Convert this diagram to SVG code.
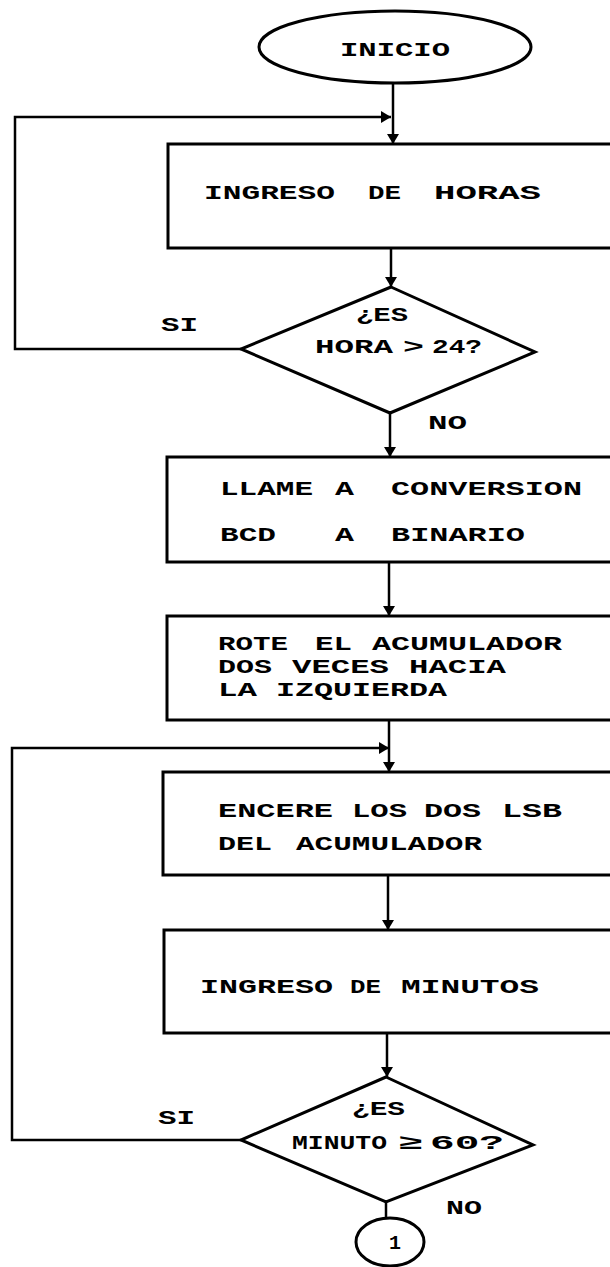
<svg xmlns="http://www.w3.org/2000/svg" width="610" height="1267" viewBox="0 0 610 1267">
<style>
.t{font-family:"Liberation Mono","Courier New",monospace;font-weight:bold;font-size:20px;fill:#000}
.s{fill:#fff;stroke:#000;stroke-width:3}
.c{fill:none;stroke:#000;stroke-width:2.5}
</style>
<defs>
<marker id="ah" markerUnits="userSpaceOnUse" markerWidth="12" markerHeight="12" refX="10" refY="6" orient="auto">
<path d="M0,0 L10,6 L0,12 Z" fill="#000"/>
</marker>
</defs>
<rect width="610" height="1267" fill="#fff"/>
<g id="connectors">
<path class="c" d="M393,83 V144" marker-end="url(#ah)"/>
<path class="c" d="M241,349 H15 V117 H391" marker-end="url(#ah)"/>
<path class="c" d="M391,248 V287" marker-end="url(#ah)"/>
<path class="c" d="M390,413 V457" marker-end="url(#ah)"/>
<path class="c" d="M389,562 V616" marker-end="url(#ah)"/>
<path class="c" d="M389,720 V772" marker-end="url(#ah)"/>
<path class="c" d="M241,1140 H12 V748 H389" marker-end="url(#ah)"/>
<path class="c" d="M388,875 V930" marker-end="url(#ah)"/>
<path class="c" d="M387,1033 V1077" marker-end="url(#ah)"/>
<path class="c" d="M386,1202 V1218"/>
</g>
<g id="inicio">
<ellipse class="s" cx="395" cy="47" rx="136" ry="36"/>
<text class="t" x="340" y="56" textLength="110" lengthAdjust="spacingAndGlyphs">INICIO</text>
</g>
<g id="ingreso-horas">
<rect class="s" x="168" y="144" width="460" height="104"/>
<text class="t" x="204" y="199" textLength="131" lengthAdjust="spacingAndGlyphs">INGRESO</text>
<text class="t" x="368" y="199" textLength="33" lengthAdjust="spacingAndGlyphs">DE</text>
<text class="t" x="434" y="199" textLength="107" lengthAdjust="spacingAndGlyphs">HORAS</text>
</g>
<g id="es-hora">
<polygon class="s" points="391,287 535,352 390,413 241,349"/>
<text class="t" x="356" y="321" textLength="52" lengthAdjust="spacingAndGlyphs">¿ES</text>
<text class="t" x="315" y="353" textLength="78" lengthAdjust="spacingAndGlyphs">HORA</text>
<text class="t" x="403" y="353" textLength="21" lengthAdjust="spacingAndGlyphs">&gt;</text>
<text class="t" x="432" y="353" textLength="50" lengthAdjust="spacingAndGlyphs">24?</text>
<text class="t" x="161" y="331" textLength="37" lengthAdjust="spacingAndGlyphs">SI</text>
<text class="t" x="428" y="429" textLength="39" lengthAdjust="spacingAndGlyphs">NO</text>
</g>
<g id="llame">
<rect class="s" x="167" y="457" width="460" height="105"/>
<text class="t" x="220" y="495" textLength="93" lengthAdjust="spacingAndGlyphs">LLAME</text>
<text class="t" x="335" y="495" textLength="19" lengthAdjust="spacingAndGlyphs">A</text>
<text class="t" x="391" y="495" textLength="191" lengthAdjust="spacingAndGlyphs">CONVERSION</text>
<text class="t" x="220" y="541" textLength="56" lengthAdjust="spacingAndGlyphs">BCD</text>
<text class="t" x="335" y="541" textLength="19" lengthAdjust="spacingAndGlyphs">A</text>
<text class="t" x="391" y="541" textLength="134" lengthAdjust="spacingAndGlyphs">BINARIO</text>
</g>
<g id="rote">
<rect class="s" x="167" y="616" width="460" height="104"/>
<text class="t" x="218" y="650" textLength="70" lengthAdjust="spacingAndGlyphs">ROTE</text>
<text class="t" x="315" y="650" textLength="37" lengthAdjust="spacingAndGlyphs">EL</text>
<text class="t" x="372" y="650" textLength="190" lengthAdjust="spacingAndGlyphs">ACUMULADOR</text>
<text class="t" x="218" y="673" textLength="54" lengthAdjust="spacingAndGlyphs">DOS</text>
<text class="t" x="292" y="673" textLength="97" lengthAdjust="spacingAndGlyphs">VECES</text>
<text class="t" x="409" y="673" textLength="97" lengthAdjust="spacingAndGlyphs">HACIA</text>
<text class="t" x="218" y="696" textLength="39" lengthAdjust="spacingAndGlyphs">LA</text>
<text class="t" x="276" y="696" textLength="171" lengthAdjust="spacingAndGlyphs">IZQUIERDA</text>
</g>
<g id="encere">
<rect class="s" x="163" y="772" width="465" height="103"/>
<text class="t" x="218" y="817" textLength="115" lengthAdjust="spacingAndGlyphs">ENCERE</text>
<text class="t" x="352" y="817" textLength="55" lengthAdjust="spacingAndGlyphs">LOS</text>
<text class="t" x="424" y="817" textLength="57" lengthAdjust="spacingAndGlyphs">DOS</text>
<text class="t" x="502" y="817" textLength="60" lengthAdjust="spacingAndGlyphs">LSB</text>
<text class="t" x="218" y="850" textLength="54" lengthAdjust="spacingAndGlyphs">DEL</text>
<text class="t" x="296" y="850" textLength="186" lengthAdjust="spacingAndGlyphs">ACUMULADOR</text>
</g>
<g id="ingreso-minutos">
<rect class="s" x="164" y="930" width="464" height="103"/>
<text class="t" x="200" y="993" textLength="133" lengthAdjust="spacingAndGlyphs">INGRESO</text>
<text class="t" x="350" y="993" textLength="31" lengthAdjust="spacingAndGlyphs">DE</text>
<text class="t" x="401" y="993" textLength="138" lengthAdjust="spacingAndGlyphs">MINUTOS</text>
</g>
<g id="es-minuto">
<polygon class="s" points="386,1077 533,1145 386,1202 241,1140"/>
<text class="t" x="352" y="1115" textLength="53" lengthAdjust="spacingAndGlyphs">¿ES</text>
<text class="t" x="292" y="1149" textLength="95" lengthAdjust="spacingAndGlyphs">MINUTO</text>
<text class="t" x="398" y="1149" textLength="25" lengthAdjust="spacingAndGlyphs">≥</text>
<text class="t" x="430" y="1149" textLength="74" lengthAdjust="spacingAndGlyphs">60?</text>
<text class="t" x="158" y="1124" textLength="37" lengthAdjust="spacingAndGlyphs">SI</text>
<text class="t" x="446" y="1214" textLength="36" lengthAdjust="spacingAndGlyphs">NO</text>
</g>
<g id="connector-1">
<ellipse class="s" cx="390" cy="1242" rx="34" ry="24"/>
<text class="t" x="389" y="1249" textLength="12" lengthAdjust="spacingAndGlyphs">1</text>
</g>
</svg>
